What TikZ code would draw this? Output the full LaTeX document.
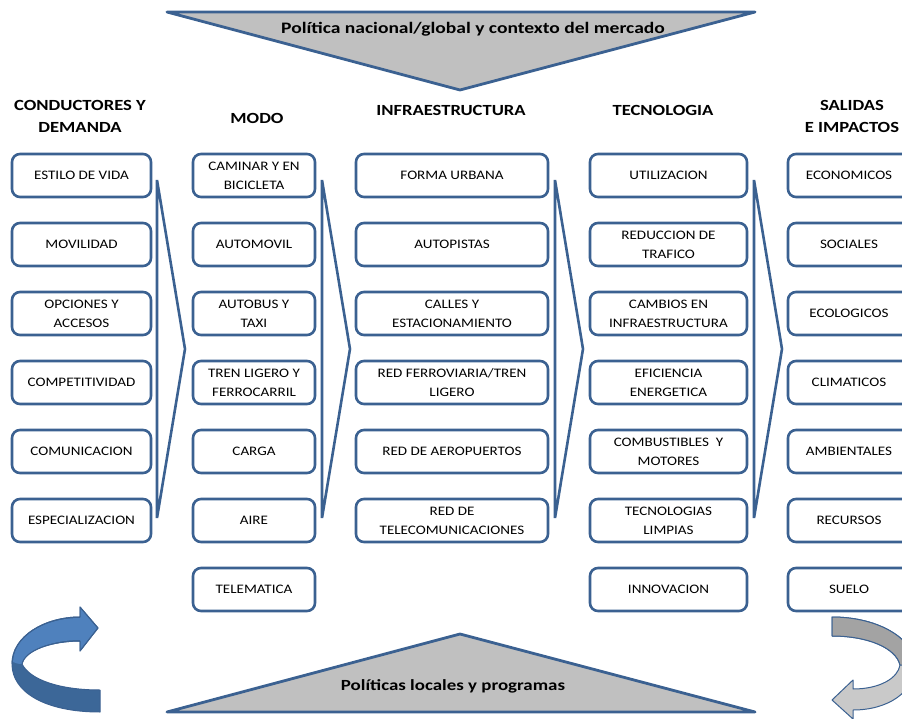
\documentclass[tikz,border=0pt]{standalone}
\usepackage{fontspec}
\setmainfont{Carlito}[FakeStretch=1.16]
\newfontfamily\headfont{Carlito}[FakeStretch=1.2]
\newfontfamily\titlefont{Carlito}[FakeStretch=1.22]
\definecolor{bcol}{HTML}{3B6191}
\definecolor{trifill}{HTML}{C0C0C0}
\definecolor{lblue}{HTML}{4F81BD}
\definecolor{dblue}{HTML}{3C6798}
\definecolor{dgray}{HTML}{A3A3A3}
\definecolor{lgray}{HTML}{C9C9C9}
\tikzset{
  stepbox/.style={draw=bcol, line width=2.6pt, rounded corners=8pt, fill=white,
    align=center, inner sep=0pt, minimum height=43pt,
    font=\fontsize{13}{19}\selectfont, text=black},
  headtxt/.style={align=center, font=\headfont\fontsize{15.5}{22}\selectfont\bfseries, text=black},
  titletxt/.style={font=\titlefont\fontsize{16}{18}\selectfont\bfseries, text=black},
  chev/.style={draw=bcol, line width=2.6pt, line join=miter},
  tri/.style={draw=bcol, line width=2.8pt, fill=trifill, line join=round},
}
\begin{document}
\begin{tikzpicture}[x=1pt,y=-1pt]
\useasboundingbox (0,0) rectangle (902,719);
\clip (0,0) rectangle (902,719);
% triangles
\draw[tri] (167,12) -- (755,12) -- (460,90) -- cycle;
\node[titletxt] (ttop) at (473,29) {Política nacional/global y contexto del mercado};
\draw[tri] (167,712) -- (755,712) -- (460,634) -- cycle;
\node[titletxt, font=\titlefont\fontsize{15.5}{18}\selectfont\bfseries] (tbot) at (453,686) {Políticas locales y programas};
% headers
\node[headtxt] (h1) at (80,116) {CONDUCTORES Y\\DEMANDA};
\node[headtxt] (h2) at (257,118) {MODO};
\node[headtxt] (h3) at (451,110) {INFRAESTRUCTURA};
\node[headtxt] (h4) at (663,110) {TECNOLOGIA};
\node[headtxt] (h5) at (852,116) {SALIDAS\\E IMPACTOS};
% column 1
\foreach \t [count=\i] in {ESTILO DE VIDA, MOVILIDAD, {OPCIONES Y\\ACCESOS}, COMPETITIVIDAD, COMUNICACION, ESPECIALIZACION}
  \node[stepbox, minimum width=139pt] (a\i) at (81.5,106.5+69*\i) {\t};
% column 2
\foreach \t [count=\i] in {{CAMINAR Y EN\\BICICLETA}, AUTOMOVIL, {AUTOBUS Y\\TAXI}, {TREN LIGERO Y\\FERROCARRIL}, CARGA, AIRE, TELEMATICA}
  \node[stepbox, minimum width=122pt] (b\i) at (254,106.5+69*\i) {\t};
% column 3
\foreach \t [count=\i] in {FORMA URBANA, AUTOPISTAS, {CALLES Y\\ESTACIONAMIENTO}, {RED FERROVIARIA/TREN\\LIGERO}, RED DE AEROPUERTOS, {RED DE\\TELECOMUNICACIONES}}
  \node[stepbox, minimum width=192pt] (c\i) at (452,106.5+69*\i) {\t};
% column 4
\foreach \t [count=\i] in {UTILIZACION, {REDUCCION DE\\TRAFICO}, {CAMBIOS EN\\INFRAESTRUCTURA}, {EFICIENCIA\\ENERGETICA}, {COMBUSTIBLES \ Y\\MOTORES}, {TECNOLOGIAS\\LIMPIAS}, INNOVACION}
  \node[stepbox, minimum width=157pt] (d\i) at (668.5,106.5+69*\i) {\t};
% column 5
\foreach \t [count=\i] in {ECONOMICOS, SOCIALES, ECOLOGICOS, CLIMATICOS, AMBIENTALES, RECURSOS, SUELO}
  \node[stepbox, minimum width=122pt] (e\i) at (849,106.5+69*\i) {\t};
% chevrons
\draw[chev] (157,180) -- (157,518) -- (185,349) -- cycle;
\draw[chev] (322,180) -- (322,518) -- (350,349) -- cycle;
\draw[chev] (555,180) -- (555,518) -- (583,349) -- cycle;
\draw[chev] (754,180) -- (754,518) -- (782,349) -- cycle;
% left curved arrow (blue)
\draw[bcol, line width=1pt, fill=dblue, line join=round]
  (100,712) .. controls (45,712) and (12,692) .. (12,664)
  .. controls (12,636) and (45,617) .. (80,617)
  -- (80,607) -- (98,628) -- (80,651) -- (80,641)
  .. controls (52,641) and (25,650) .. (22,664)
  .. controls (30,680) and (60,690) .. (100,690) -- cycle;
\fill[lblue]
  (13,662) .. controls (14,636) and (45,618) .. (80,618)
  -- (80,608) -- (97,628) -- (80,650) -- (80,640)
  .. controls (52,640) and (25,650) .. (22,664)
  .. controls (18,664) and (15,663) .. (13,662) -- cycle;
\draw[bcol, line width=1pt, line join=round]
  (12,664) .. controls (12,636) and (45,617) .. (80,617)
  -- (80,607) -- (98,628) -- (80,651) -- (80,641)
  .. controls (52,641) and (25,650) .. (22,664);
% right curved arrow (gray)
\draw[bcol, line width=1pt, fill=lgray, line join=round]
  (832,617) .. controls (880,617) and (915,640) .. (915,665)
  .. controls (915,692) and (888,710) .. (853,710)
  -- (853,719) -- (832,700) -- (853,680) -- (853,689)
  .. controls (880,689) and (898,678) .. (900,665)
  .. controls (896,648) and (868,636) .. (832,636) -- cycle;
\draw[bcol, line width=1pt, fill=dgray, line join=round]
  (832,617) .. controls (880,617) and (915,640) .. (915,665)
  -- (900,665)
  .. controls (896,648) and (868,636) .. (832,636) -- cycle;
\end{tikzpicture}
\end{document}
